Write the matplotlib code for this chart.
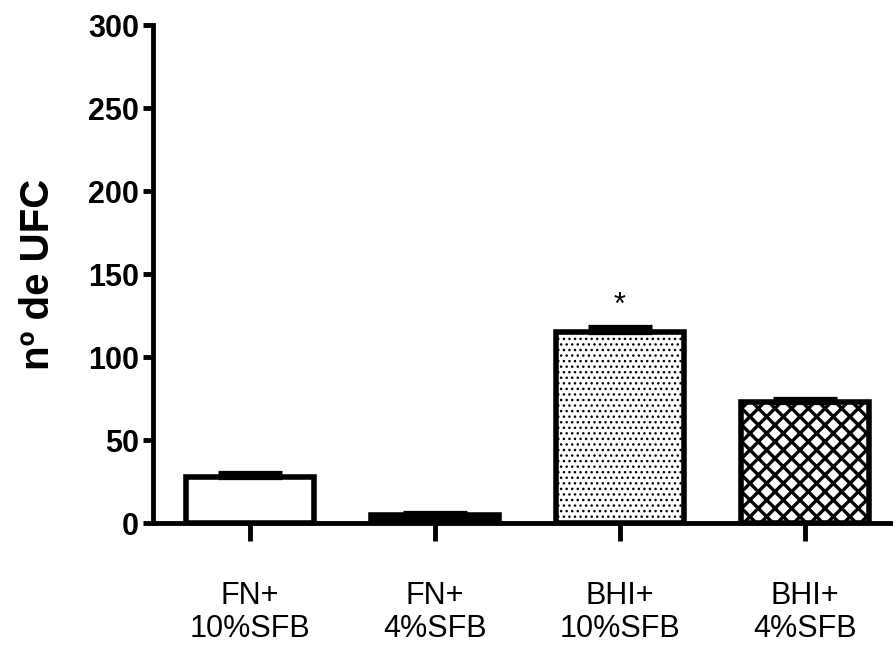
import numpy as np
import matplotlib
matplotlib.use("Agg")
import matplotlib.pyplot as plt

# data
groups = ["FN+\n10%SFB", "FN+\n4%SFB", "BHI+\n10%SFB", "BHI+\n4%SFB"]
means = [28, 5, 115, 73]
errors = [2, 1, 3, 1.5]
hatches = [None, None, "...", "xx"]
fills = ["white", "black", "white", "white"]
star_group = 2
yticks = [0, 50, 100, 150, 200, 250, 300]

plt.rcParams["font.family"] = ["Liberation Sans", "DejaVu Sans"]

fig = plt.figure(figsize=(8.93, 6.45), dpi=100)
ax = fig.add_axes([0.1713, 0.1891, 0.8287, 0.7721])

x = np.arange(len(groups))
for i in range(len(groups)):
    hlw = 2.4 if hatches[i] == "xx" else 1.0
    with plt.rc_context({"hatch.linewidth": hlw}):
        ax.bar(x[i], means[i], width=0.69, color=fills[i], edgecolor="black",
               linewidth=4, hatch=hatches[i], zorder=2)

ax.errorbar(x, means, yerr=[np.zeros(len(errors)), errors], fmt="none",
            ecolor="black", elinewidth=3.5, capsize=23, capthick=3.8, zorder=3)

# significance mark
ax.text(x[star_group], means[star_group] + errors[star_group] + 13, "*",
        ha="center", va="center", fontsize=22)

ax.set_xlim(-0.524, 3.476)
ax.set_ylim(0, 300)
ax.set_yticks(yticks)
ax.set_xticks(x)
ax.set_xticklabels(groups, fontsize=22, linespacing=1.1)
ax.tick_params(axis="y", length=7, width=3.5, pad=3, labelsize=22)
ax.tick_params(axis="x", length=13, width=3.5, pad=29)
for lab in ax.get_yticklabels():
    lab.set_fontweight("bold")

ax.set_ylabel("nº de UFC", fontsize=29, fontweight="bold")
ax.yaxis.set_label_coords(-0.13, 0.5)

for side in ["top", "right"]:
    ax.spines[side].set_visible(False)
for side in ["left", "bottom"]:
    ax.spines[side].set_linewidth(3.5)

fig.savefig("out.png", dpi=100)
